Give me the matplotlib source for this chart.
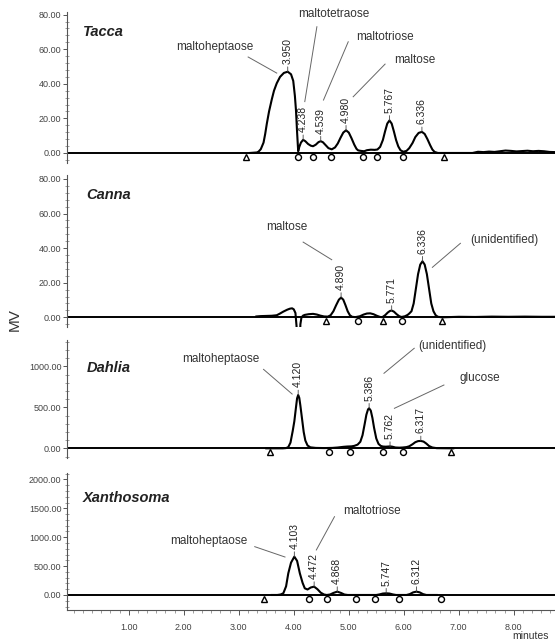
import matplotlib
matplotlib.use('Agg')
import matplotlib.pyplot as plt
import matplotlib.transforms as mtransforms
from matplotlib.ticker import MultipleLocator, FormatStrFormatter, FixedLocator

# chromatogram traces (minutes, mV)
tacca_t = [3.20, 3.33, 3.36, 3.40, 3.45, 3.48, 3.51, 3.55, 3.60, 3.64, 3.69, 3.75, 3.82, 3.89, 3.95,
           3.99, 4.02, 4.04, 4.06, 4.08, 4.10, 4.13, 4.17, 4.21, 4.26, 4.31, 4.35, 4.40, 4.45, 4.49,
           4.53, 4.58, 4.63, 4.69, 4.75, 4.80, 4.85, 4.90, 4.95, 5.00, 5.05, 5.10, 5.14, 5.17, 5.22,
           5.28, 5.33, 5.40, 5.47, 5.52, 5.57, 5.62, 5.66, 5.70, 5.74, 5.78, 5.82, 5.86, 5.90, 5.94,
           5.99, 6.05, 6.10, 6.16, 6.21, 6.27, 6.33, 6.38, 6.43, 6.48, 6.52, 6.56, 6.62, 7.25, 7.35,
           7.45, 7.55, 7.65, 7.75, 7.85, 7.95, 8.05, 8.15, 8.25, 8.35, 8.45, 8.55, 8.65, 8.75]
tacca_mv = [0, 0.3, 0.8, 2.2, 6, 11, 17, 24, 31, 36, 40.3, 44, 46.3, 47, 45.5,
            41.7, 33, 24.6, 12, 1.0, 3.5, 6, 7.6, 6.8, 5.2, 4.2, 3.9, 4.8, 6.3, 6.8,
            6.2, 4.5, 2.8, 2.1, 3.2, 5.5, 8.8, 11.8, 13.1, 11.8, 8.5, 4.8, 2.4, 1.5, 1.2,
            1.0, 1.6, 1.9, 1.8, 2.0, 3.5, 7.5, 12.5, 17, 18.8, 17, 12.5, 7.5, 3.8, 1.6,
            0.7, 1.2, 2.8, 5.8, 9.2, 11.6, 12.2, 11, 8, 4.5, 2, 0.6, 0, 0, 0.7,
            0.5, 0.8, 0.6, 1.0, 1.4, 1.2, 0.9, 1.1, 1.3, 1.0, 1.2, 1.0, 0.6, 0.5]

canna_t = [3.32, 3.40, 3.50, 3.60, 3.69, 3.75, 3.81, 3.88, 3.93, 3.97, 4.00, 4.03, 4.05, 4.06, 4.11,
           4.12, 4.14, 4.17, 4.20, 4.27, 4.35, 4.42, 4.48, 4.55, 4.62, 4.67, 4.72, 4.77, 4.82, 4.86,
           4.90, 4.94, 4.98, 5.02, 5.06, 5.12, 5.20, 5.27, 5.33, 5.39, 5.45, 5.51, 5.57, 5.61, 5.66,
           5.71, 5.75, 5.78, 5.82, 5.87, 5.92, 5.96, 6.02, 6.07, 6.10, 6.14, 6.18, 6.22, 6.26, 6.30,
           6.34, 6.38, 6.42, 6.46, 6.50, 6.54, 6.58, 6.62, 6.70, 7.0, 7.3, 7.6, 7.9, 8.2, 8.5, 8.75]
canna_mv = [0.5, 0.7, 0.8, 0.9, 1.2, 2.2, 3.3, 4.4, 5.0, 5.2, 4.6, 2.5, -5, -14, -14,
            -4, 0, 1.0, 1.4, 1.8, 2.0, 1.6, 1.0, 0.5, 0.4, 1.2, 3.5, 7.0, 10.2, 11.4,
            10.2, 7.0, 3.5, 1.2, 0.3, 0.1, 0.6, 1.6, 2.2, 2.3, 1.8, 0.9, 0.2, 0.1, 1.2,
            2.8, 3.7, 3.9, 3.3, 1.8, 0.6, 0.2, 0.6, 1.4, 2.2, 3.5, 8, 16.5, 25, 30.5,
            32.4, 30.5, 25, 16.5, 8, 3.5, 1.2, 0.3, 0, 0.3, 0.2, 0.4, 0.3, 0.4, 0.3, 0.3]

dahlia_t = [3.50, 3.80, 3.86, 3.90, 3.94, 3.98, 4.01, 4.04, 4.06, 4.08, 4.10, 4.12, 4.15, 4.18, 4.21,
            4.25, 4.30, 4.40, 4.55, 4.70, 4.80, 4.90, 4.97, 5.05, 5.10, 5.16, 5.21, 5.25, 5.29, 5.32,
            5.35, 5.37, 5.40, 5.43, 5.46, 5.50, 5.54, 5.58, 5.62, 5.67, 5.72, 5.75, 5.79, 5.85, 5.92,
            5.98, 6.05, 6.10, 6.16, 6.21, 6.26, 6.31, 6.36, 6.41, 6.46, 6.52, 6.60, 6.90]
dahlia_mv = [0, 0, 3, 15, 70, 210, 330, 500, 610, 650, 615, 520, 360, 200, 95,
             35, 12, 5, 3, 5, 10, 18, 22, 24, 30, 45, 80, 160, 300, 410,
             475, 488, 460, 370, 250, 120, 55, 30, 22, 20, 22, 24, 20, 10, 8,
             10, 15, 25, 50, 75, 88, 90, 82, 58, 28, 10, 2, 0]

xan_t = [3.60, 3.70, 3.76, 3.81, 3.86, 3.90, 3.95, 4.01, 4.06, 4.11, 4.16, 4.20, 4.25, 4.31, 4.37,
         4.43, 4.49, 4.55, 4.60, 4.66, 4.72, 4.79, 4.86, 4.92, 4.98, 5.50, 5.56, 5.62, 5.68, 5.74,
         5.80, 5.86, 6.05, 6.11, 6.17, 6.23, 6.29, 6.35, 6.41, 6.60]
xan_mv = [0, 0, 8, 30, 150, 375, 560, 663, 590, 375, 210, 115, 95, 130, 144,
          100, 40, 8, 0, 8, 35, 58, 35, 8, 0, 0, 10, 25, 29, 25,
          10, 0, 0, 15, 45, 58, 45, 15, 0, 0]

# integration marks (triangles = start/end, circles = drop lines)
tacca_tri = [3.13, 6.73]
tacca_dot = [4.08, 4.35, 4.67, 5.26, 5.52, 5.99]
canna_tri = [4.59, 5.62, 6.70]
canna_dot = [5.17, 5.96]
dahlia_tri = [3.57, 6.85]
dahlia_dot = [4.64, 5.03, 5.63, 5.99]
xan_tri = [3.45]
xan_dot = [4.28, 4.61, 5.13, 5.48, 5.91, 6.67]

# retention time labels: apex time, apex height, label
tacca_pk_t = [3.89, 4.17, 4.49, 4.95, 5.74, 6.33]
tacca_pk_mv = [47, 7.6, 6.8, 13.1, 18.8, 12.2]
tacca_pk = ['3.950', '4.238', '4.539', '4.980', '5.767', '6.336']
canna_pk_t = [4.86, 5.78, 6.34]
canna_pk_mv = [11.4, 3.9, 32.4]
canna_pk = ['4.890', '5.771', '6.336']
dahlia_pk_t = [4.08, 5.37, 5.75, 6.31]
dahlia_pk_mv = [650, 488, 20, 90]
dahlia_pk = ['4.120', '5.386', '5.762', '6.317']
xan_pk_t = [4.01, 4.37, 4.79, 5.68, 6.23]
xan_pk_mv = [663, 144, 58, 29, 58]
xan_pk = ['4.103', '4.472', '4.868', '5.747', '6.312']

x_ticks = [1, 2, 3, 4, 5, 6, 7, 8]

SANS = ['Liberation Sans', 'DejaVu Sans']

fig = plt.figure(figsize=(5.55, 6.43), dpi=100)
left = 67 / 555
boxes = [(163, 11.7), (327, 175), (458, 340), (610, 473)]  # bottom/top in pixels
axes = []
for bot, top in boxes:
    ax = fig.add_axes([left, 1 - bot / 643, 1 - left, (bot - top) / 643])
    axes.append(ax)


def panel(ax, t, mv, ylim, major, minor, title, title_pos, tri, dot, pk_t, pk_mv, pk):
    ax.set_xlim(-0.124, 8.75)
    ax.set_ylim(*ylim)
    for s in ['top', 'right', 'bottom']:
        ax.spines[s].set_visible(False)
    ax.spines['left'].set_color('#555555')
    ax.spines['left'].set_linewidth(0.8)
    ax.yaxis.set_major_locator(MultipleLocator(major))
    ax.yaxis.set_minor_locator(MultipleLocator(minor))
    ax.yaxis.set_major_formatter(FormatStrFormatter('%.2f'))
    ax.tick_params(axis='y', which='major', direction='out', length=3, width=0.7,
                   color='#555555', labelsize=6.5, labelcolor='#444444', pad=1)
    ax.tick_params(axis='y', which='minor', direction='inout', length=2.5, width=0.5,
                   color='#777777')
    ax.set_xticks([])
    for lab in ax.get_yticklabels():
        lab.set_family(SANS)

    ax.axhline(0, color='black', lw=1.4, zorder=2)
    ax.plot(t, mv, color='black', lw=1.5, solid_joinstyle='round', zorder=3)

    below = mtransforms.offset_copy(ax.transData, fig=fig, x=0, y=-4, units='dots')
    ax.plot(tri, [0] * len(tri), linestyle='none', marker='^', ms=4.5, mfc='white',
            mec='black', mew=1.0, transform=below, zorder=4, clip_on=False)
    ax.plot(dot, [0] * len(dot), linestyle='none', marker='o', ms=4.3, mfc='white',
            mec='black', mew=1.0, transform=below, zorder=4, clip_on=False)

    for x, y, s in zip(pk_t, pk_mv, pk):
        ax.annotate(s, xy=(x, y), xytext=(0, 5.5), textcoords='offset points',
                    rotation=90, ha='center', va='bottom', fontsize=7.5, color='#222222',
                    family=SANS,
                    arrowprops=dict(arrowstyle='-', lw=0.6, color='#444444',
                                    shrinkA=0, shrinkB=0))

    ax.text(title_pos[0], title_pos[1], title, ha='left', va='center', fontsize=10.5,
            fontweight='bold', fontstyle='italic', family=SANS, color='#222222')


def note(ax, s, pos, p0, p1):
    ax.text(pos[0], pos[1], s, ha='center', va='center', fontsize=8.5, color='#333333',
            family=SANS)
    ax.plot([p0[0], p1[0]], [p0[1], p1[1]], color='#666666', lw=0.7)


ax1, ax2, ax3, ax4 = axes
panel(ax1, tacca_t, tacca_mv, (-5.8, 81.7), 20, 4, 'Tacca', (0.167, 70.1),
      tacca_tri, tacca_dot, tacca_pk_t, tacca_pk_mv, tacca_pk)
note(ax1, 'maltoheptaose', (2.567, 61.3), (3.17, 55.5), (3.69, 46.2))
note(ax1, 'maltotetraose', (4.73, 80.3), (4.42, 73), (4.20, 29.7))
note(ax1, 'maltotriose', (5.66, 67.2), (4.99, 64.3), (4.54, 30.6))
note(ax1, 'maltose', (6.20, 53.8), (5.66, 51.4), (5.08, 32.5))

panel(ax2, canna_t, canna_mv, (-5.6, 82.3), 20, 4, 'Canna', (0.235, 70.7),
      canna_tri, canna_dot, canna_pk_t, canna_pk_mv, canna_pk)
note(ax2, 'maltose', (3.87, 52.4), (4.17, 43.5), (4.69, 33.3))
note(ax2, '(unidentified)', (7.83, 44.7), (7.03, 42.8), (6.52, 28.9))

panel(ax3, dahlia_t, dahlia_mv, (-118, 1321), 500, 100, 'Dahlia', (0.235, 976),
      dahlia_tri, dahlia_dot, dahlia_pk_t, dahlia_pk_mv, dahlia_pk)
note(ax3, 'maltoheptaose', (2.68, 1085), (3.45, 963), (3.97, 662))
note(ax3, '(unidentified)', (6.89, 1248), (6.19, 1220), (5.64, 915))
note(ax3, 'glucose', (7.38, 854), (6.73, 772), (5.83, 488))

panel(ax4, xan_t, xan_mv, (-260, 2111), 500, 100, 'Xanthosoma', (0.17, 1673),
      xan_tri, xan_dot, xan_pk_t, xan_pk_mv, xan_pk)
note(ax4, 'maltoheptaose', (2.45, 934), (3.29, 836), (3.84, 657))
note(ax4, 'maltotriose', (5.42, 1458), (4.74, 1355), (4.41, 779))

# x axis only on the bottom panel
ax4.spines['bottom'].set_visible(True)
ax4.spines['bottom'].set_color('#555555')
ax4.spines['bottom'].set_linewidth(0.8)
ax4.xaxis.set_major_locator(FixedLocator(x_ticks))
ax4.xaxis.set_minor_locator(MultipleLocator(1 / 6))
ax4.xaxis.set_major_formatter(FormatStrFormatter('%.2f'))
ax4.tick_params(axis='x', which='major', direction='out', length=3.5, width=0.7,
                color='#555555', labelsize=6.5, labelcolor='#444444', pad=6)
ax4.tick_params(axis='x', which='minor', direction='out', length=2, width=0.5,
                color='#777777')
for lab in ax4.get_xticklabels():
    lab.set_family(SANS)

fig.text(15 / 555, 1 - 320 / 643, 'MV', rotation=90, ha='center', va='center',
         fontsize=11, color='#333333', family=SANS)
fig.text(531 / 555, 1 - 636 / 643, 'minutes', ha='center', va='center',
         fontsize=7.5, color='#333333', family=SANS)

fig.savefig('out.png', dpi=100)
